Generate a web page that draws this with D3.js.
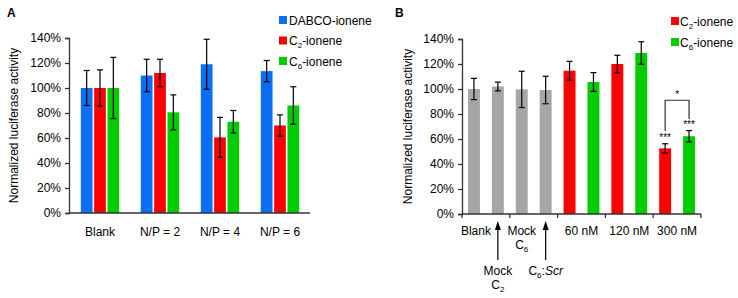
<!DOCTYPE html>
<html>
<head>
<meta charset="utf-8">
<script src="https://cdn.jsdelivr.net/npm/d3@7"></script>
<style>
  body { margin: 0; background: #fff; }
  svg { font-family: "Liberation Sans", Arial, sans-serif; }
</style>
</head>
<body>
<div id="chart"></div>
<script>
// ---- Panel A data ----
const groupsA = ["Blank", "N/P = 2", "N/P = 4", "N/P = 6"];
const seriesA = ["DABCO", "C2", "C6"];
const seriesLabelsA = [["DABCO-ionene"], ["C", "2", "-ionene"], ["C", "6", "-ionene"]];
const meansA = {
  DABCO: [100, 110, 119, 113.5],
  C2:    [100, 112, 60.5, 70],
  C6:    [100, 80.5, 73, 86]
};
const errsA = {
  DABCO: [14, 13, 20, 8.5],
  C2:    [14.5, 11, 16, 8.5],
  C6:    [24.5, 14, 9, 15]
};

// ---- Panel B data ----
const barsB = ["Blank", "Mock C2", "Mock C6", "C6:Scr", "60 C2", "60 C6", "120 C2", "120 C6", "300 C2", "300 C6"];
const kindB = ["grey", "grey", "grey", "grey", "C2", "C6", "C2", "C6", "C2", "C6"];
const meansB = [100, 102, 99.7, 99.2, 114.6, 105.6, 120, 128.8, 52.5, 62.2];
const errsB  = [8.5, 3.5, 14.5, 11, 7.5, 7.5, 7, 9, 3.7, 4.5];
const starsB = ["", "", "", "", "", "", "", "", "***", "***"];
const yTicks = [0, 20, 40, 60, 80, 100, 120, 140];

const colors = { DABCO: "#0b6ff5", C2: "#ff0000", C6: "#00cc00", grey: "#a6a6a6" };

const W = 738, H = 298;
const svg = d3.select("#chart").append("svg").attr("width", W).attr("height", H);

// text with subscript helper: parts = [main, sub, rest]
function subText(sel, parts) {
  sel.append("tspan").text(parts[0]);
  if (parts.length > 1) {
    sel.append("tspan").attr("font-size", 8).attr("dy", 3).text(parts[1]);
    sel.append("tspan").attr("dy", -3).text(parts[2]);
  }
}

function errorBars(g, xc, y, mean, err) {
  const cap = 3;
  g.append("line").attr("x1", xc).attr("x2", xc).attr("y1", y(mean + err)).attr("y2", y(mean - err));
  g.append("line").attr("x1", xc - cap).attr("x2", xc + cap).attr("y1", y(mean + err)).attr("y2", y(mean + err));
  g.append("line").attr("x1", xc - cap).attr("x2", xc + cap).attr("y1", y(mean - err)).attr("y2", y(mean - err));
}

function yAxis(g, y, x0) {
  const ax = g.append("g")
    .attr("transform", `translate(${x0},0)`)
    .call(d3.axisLeft(y).tickValues(yTicks).tickFormat(d => d + "%").tickSize(4).tickPadding(4));
  ax.selectAll("path, line").attr("stroke", "#333").attr("stroke-width", 1.3);
  ax.selectAll("text").attr("font-size", 12).attr("fill", "#000").attr("font-family", "Liberation Sans, Arial");
  return ax;
}

// ================= Panel A =================
const yA = d3.scaleLinear().domain([0, 140]).range([213, 38]);
const xA = d3.scaleBand().domain(groupsA).range([70, 310]);
const xSub = d3.scaleBand().domain(seriesA).range([10.8, 49.2]).paddingInner(0.12);

const gA = svg.append("g");
gA.append("text").attr("x", 7).attr("y", 17).attr("font-size", 12).attr("font-weight", "bold").text("A");

seriesA.forEach(s => {
  gA.append("g").selectAll("rect")
    .data(groupsA)
    .join("rect")
    .attr("x", (d) => xA(d) + xSub(s))
    .attr("y", (d, i) => yA(meansA[s][i]))
    .attr("width", xSub.bandwidth())
    .attr("height", (d, i) => yA(0) - yA(meansA[s][i]))
    .attr("fill", colors[s]);
});

const ebA = gA.append("g").attr("stroke", "#000").attr("stroke-width", 1.2);
seriesA.forEach(s => {
  groupsA.forEach((grp, i) => {
    errorBars(ebA, xA(grp) + xSub(s) + xSub.bandwidth() / 2, yA, meansA[s][i], errsA[s][i]);
  });
});

yAxis(gA, yA, 69);
gA.append("line").attr("x1", 69).attr("x2", 310).attr("y1", yA(0)).attr("y2", yA(0))
  .attr("stroke", "#333").attr("stroke-width", 1.3);

gA.append("g").selectAll("text")
  .data(groupsA)
  .join("text")
  .attr("x", d => xA(d) + xA.bandwidth() / 2)
  .attr("y", 236)
  .attr("text-anchor", "middle")
  .attr("font-size", 12)
  .text(d => d);

gA.append("text")
  .attr("transform", `translate(18,${(yA(0) + yA(140)) / 2}) rotate(-90)`)
  .attr("text-anchor", "middle")
  .attr("font-size", 12)
  .text("Normalized luciferase activity");

// legend A
const legA = gA.append("g");
seriesA.forEach((s, i) => {
  const yy = 20 + i * 20.5;
  legA.append("rect").attr("x", 279).attr("y", yy - 4).attr("width", 8).attr("height", 8).attr("fill", colors[s]);
  const t = legA.append("text").attr("x", 289).attr("y", yy + 4.5).attr("font-size", 12);
  subText(t, seriesLabelsA[i]);
});

// ================= Panel B =================
const yB = d3.scaleLinear().domain([0, 140]).range([214, 39]);
const xB = d3.scaleBand().domain(barsB).range([462, 701]).paddingInner(0.5).paddingOuter(0.25);
const stepB = xB.step();

const gB = svg.append("g");
gB.append("text").attr("x", 395).attr("y", 17).attr("font-size", 12).attr("font-weight", "bold").text("B");

gB.append("g").selectAll("rect")
  .data(barsB)
  .join("rect")
  .attr("x", d => xB(d))
  .attr("y", (d, i) => yB(meansB[i]))
  .attr("width", xB.bandwidth())
  .attr("height", (d, i) => yB(0) - yB(meansB[i]))
  .attr("fill", (d, i) => colors[kindB[i]]);

const ebB = gB.append("g").attr("stroke", "#000").attr("stroke-width", 1.2);
barsB.forEach((b, i) => errorBars(ebB, xB(b) + xB.bandwidth() / 2, yB, meansB[i], errsB[i]));

gB.append("g").selectAll("text")
  .data(barsB)
  .join("text")
  .attr("x", d => xB(d) + xB.bandwidth() / 2)
  .attr("y", (d, i) => yB(meansB[i] + errsB[i]) - 3)
  .attr("text-anchor", "middle")
  .attr("font-size", 10)
  .attr("fill", "#000")
  .text((d, i) => starsB[i]);

// significance bracket between 300 nM bars
const cL = xB("300 C2") + xB.bandwidth() / 2, cR = xB("300 C6") + xB.bandwidth() / 2;
gB.append("path")
  .attr("d", `M${cL},${yB(66.5)}V${yB(91)}H${cR}V${yB(76)}`)
  .attr("fill", "none").attr("stroke", "#333").attr("stroke-width", 1.2);
gB.append("text").attr("x", (cL + cR) / 2).attr("y", yB(93)).attr("text-anchor", "middle")
  .attr("font-size", 10).attr("fill", "#000").text("*");

yAxis(gB, yB, 462);
// x axis with ticks at pair boundaries
const xAxisB = gB.append("g").attr("stroke", "#333").attr("stroke-width", 1.3);
xAxisB.append("line").attr("x1", 462).attr("x2", 701).attr("y1", yB(0)).attr("y2", yB(0));
d3.range(0, 6).forEach(k => {
  const xx = 462 + k * 2 * stepB;
  xAxisB.append("line").attr("x1", xx).attr("x2", xx).attr("y1", yB(0)).attr("y2", yB(0) + 4);
});

gB.append("text")
  .attr("transform", `translate(412,${(yB(0) + yB(140)) / 2}) rotate(-90)`)
  .attr("text-anchor", "middle")
  .attr("font-size", 12)
  .text("Normalized luciferase activity");

// x labels
const ctr = b => xB(b) + xB.bandwidth() / 2;
const lab = gB.append("g").attr("font-size", 12).attr("text-anchor", "middle");
lab.append("text").attr("x", ctr("Blank") + 2).attr("y", 235).text("Blank");
lab.append("text").attr("x", ctr("Mock C6")).attr("y", 235).text("Mock");
subText(lab.append("text").attr("x", ctr("Mock C6")).attr("y", 249), ["C", "6", ""]);
[["60 C2", "60 C6", "60 nM"], ["120 C2", "120 C6", "120 nM"], ["300 C2", "300 C6", "300 nM"]].forEach(p => {
  lab.append("text").attr("x", (ctr(p[0]) + ctr(p[1])) / 2).attr("y", 235).text(p[2]);
});
// arrows
const arr = gB.append("g");
["Mock C2", "C6:Scr"].forEach(b => {
  arr.append("line").attr("x1", ctr(b)).attr("x2", ctr(b)).attr("y1", 227).attr("y2", 260)
    .attr("stroke", "#000").attr("stroke-width", 1.2);
  arr.append("path").attr("d", `M${ctr(b)},221L${ctr(b) - 3},230L${ctr(b) + 3},230Z`).attr("fill", "#000");
});
lab.append("text").attr("x", ctr("Mock C2")).attr("y", 275).text("Mock");
subText(lab.append("text").attr("x", ctr("Mock C2")).attr("y", 289), ["C", "2", ""]);
const scr = lab.append("text").attr("x", ctr("C6:Scr")).attr("y", 275);
scr.append("tspan").text("C");
scr.append("tspan").attr("font-size", 8).attr("dy", 3).text("6");
scr.append("tspan").attr("dy", -3).text(":");
scr.append("tspan").attr("font-style", "italic").text("Scr");

// legend B
const legB = gB.append("g");
[["C2", ["C", "2", "-ionene"]], ["C6", ["C", "6", "-ionene"]]].forEach((d, i) => {
  const yy = 21 + i * 21;
  legB.append("rect").attr("x", 671).attr("y", yy - 4).attr("width", 8).attr("height", 8).attr("fill", colors[d[0]]);
  const t = legB.append("text").attr("x", 680).attr("y", yy + 4.5).attr("font-size", 12);
  subText(t, d[1]);
});
</script>
</body>
</html>
